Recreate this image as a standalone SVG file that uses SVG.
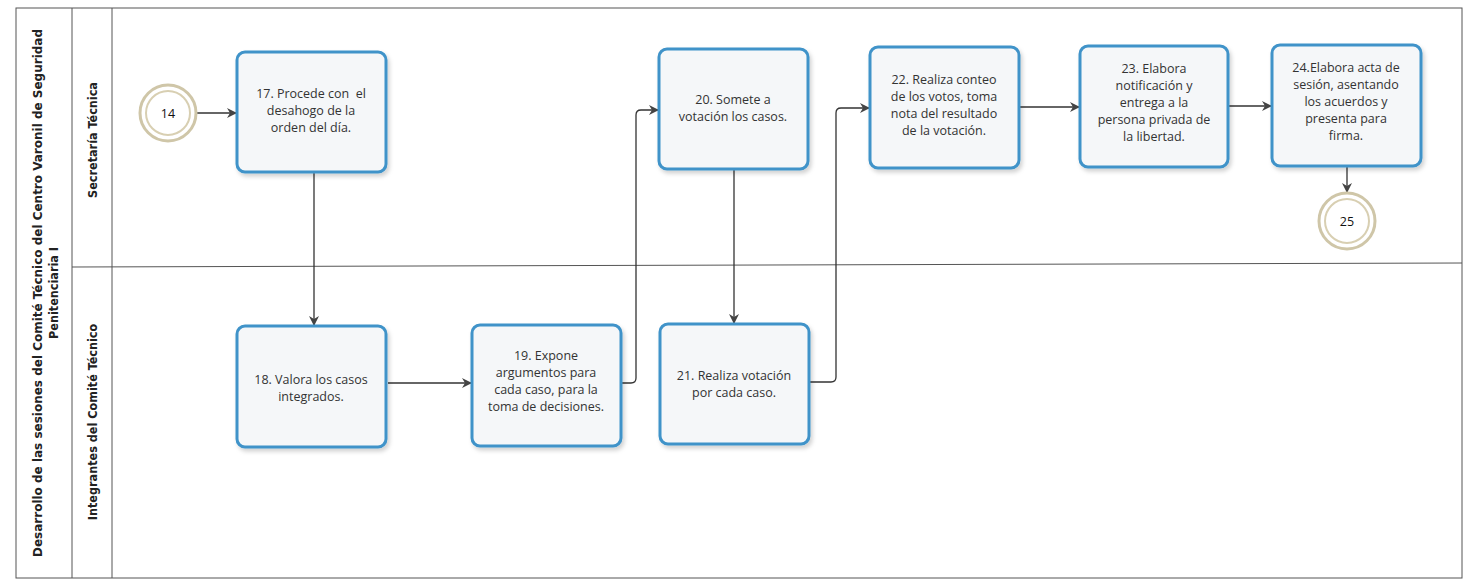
<svg xmlns="http://www.w3.org/2000/svg" width="1467" height="581" viewBox="0 0 1467 581">
<defs>
<marker id="arr" markerWidth="10" markerHeight="10" refX="9" refY="5" orient="auto" markerUnits="userSpaceOnUse">
<path d="M0,0 L10,5 L0,10 L3,5 Z" fill="#444"/>
</marker>
<filter id="sh" x="-10%" y="-10%" width="130%" height="130%">
<feDropShadow dx="2" dy="3" stdDeviation="2" flood-color="#000" flood-opacity="0.18"/>
</filter>
</defs>
<style>
.task{fill:#f5f7f9;stroke:#3f93c9;stroke-width:3;filter:url(#sh)}
.t{font-family:"Open Sans","Liberation Sans",sans-serif;font-size:12.5px;fill:#333;text-anchor:middle}
.lbl{font-family:"DejaVu Sans Condensed","Liberation Sans",sans-serif;font-size:12.5px;font-weight:bold;fill:#222;text-anchor:middle}
.ev{fill:#fff;stroke:#cfc6a8;stroke-width:3}
.evi{fill:#fff;stroke:#d8cfb2;stroke-width:2}
.c{fill:none;stroke:#333;stroke-width:1.3;marker-end:url(#arr)}
.ln{fill:none;stroke:#555;stroke-width:1}
</style>
<rect width="1467" height="581" fill="#ffffff"/>
<g id="pool">
<rect class="ln" x="16" y="8" width="1446" height="570"/>
<line class="ln" x1="72" y1="8" x2="72" y2="578"/>
<line class="ln" x1="112" y1="8" x2="112" y2="578"/>
<line class="ln" x1="72" y1="267" x2="1462" y2="263"/>
<text class="lbl" transform="translate(42,293) rotate(-90)" textLength="528" lengthAdjust="spacingAndGlyphs">Desarrollo de las sesiones del Comité Técnico del Centro Varonil de Seguridad</text>
<text class="lbl" transform="translate(58,293) rotate(-90)">Penitenciaria I</text>
<text class="lbl" transform="translate(97,140) rotate(-90)">Secretaría Técnica</text>
<text class="lbl" transform="translate(97,422) rotate(-90)">Integrantes del Comité Técnico</text>
</g>
<g id="connectors">
<path class="c" d="M197,113 L236,113"/>
<path class="c" d="M314,173 L314,325"/>
<path class="c" d="M388,383 L471,383"/>
<path class="c" d="M621,383 L631,383 Q636,383 636,378 L636,115 Q636,110 641,110 L658,110"/>
<path class="c" d="M734,170 L734,323"/>
<path class="c" d="M809,382 L831,382 Q836,382 836,377 L836,113 Q836,108 841,108 L869,108"/>
<path class="c" d="M1020,107 L1079,107"/>
<path class="c" d="M1229,106 L1271,106"/>
<path class="c" d="M1347,166 L1347,192"/>
</g>
<g id="n14">
<circle class="ev" cx="168" cy="113" r="28"/>
<circle class="evi" cx="168" cy="113" r="22"/>
<text class="t" x="168" y="118" style="fill:#111">14</text>
</g>
<g id="n17">
<rect class="task" x="237" y="52" width="149" height="120" rx="8"/>
<text class="t" xml:space="preserve"><tspan x="311" y="98">17. Procede con  el</tspan><tspan x="311" y="115">desahogo de la</tspan><tspan x="311" y="132">orden del día.</tspan></text>
</g>
<g id="n18">
<rect class="task" x="237" y="326" width="149" height="121" rx="8"/>
<text class="t"><tspan x="311" y="384">18. Valora los casos</tspan><tspan x="311" y="401">integrados.</tspan></text>
</g>
<g id="n19">
<rect class="task" x="472" y="325" width="149" height="121" rx="8"/>
<text class="t"><tspan x="546" y="360">19. Expone</tspan><tspan x="546" y="377">argumentos para</tspan><tspan x="546" y="394">cada caso, para la</tspan><tspan x="546" y="411">toma de decisiones.</tspan></text>
</g>
<g id="n20">
<rect class="task" x="659" y="49" width="149" height="120" rx="8"/>
<text class="t"><tspan x="733" y="104">20. Somete a</tspan><tspan x="733" y="121">votación los casos.</tspan></text>
</g>
<g id="n21">
<rect class="task" x="660" y="324" width="149" height="120" rx="8"/>
<text class="t"><tspan x="734" y="380">21. Realiza votación</tspan><tspan x="734" y="397">por cada caso.</tspan></text>
</g>
<g id="n22">
<rect class="task" x="870" y="47" width="149" height="121" rx="8"/>
<text class="t"><tspan x="944" y="84">22. Realiza conteo</tspan><tspan x="944" y="101">de los votos, toma</tspan><tspan x="944" y="118">nota del resultado</tspan><tspan x="944" y="135">de la votación.</tspan></text>
</g>
<g id="n23">
<rect class="task" x="1080" y="46" width="148" height="121" rx="8"/>
<text class="t"><tspan x="1154" y="73">23. Elabora</tspan><tspan x="1154" y="90">notificación y</tspan><tspan x="1154" y="107">entrega a la</tspan><tspan x="1154" y="124">persona privada de</tspan><tspan x="1154" y="141">la libertad.</tspan></text>
</g>
<g id="n24">
<rect class="task" x="1272" y="45" width="149" height="121" rx="8"/>
<text class="t"><tspan x="1346" y="72">24.Elabora acta de</tspan><tspan x="1346" y="89">sesión, asentando</tspan><tspan x="1346" y="106">los acuerdos y</tspan><tspan x="1346" y="123">presenta para</tspan><tspan x="1346" y="140">firma.</tspan></text>
</g>
<g id="n25">
<circle class="ev" cx="1347" cy="221" r="28"/>
<circle class="evi" cx="1347" cy="221" r="22"/>
<text class="t" x="1347" y="226" style="fill:#111">25</text>
</g>
</svg>
